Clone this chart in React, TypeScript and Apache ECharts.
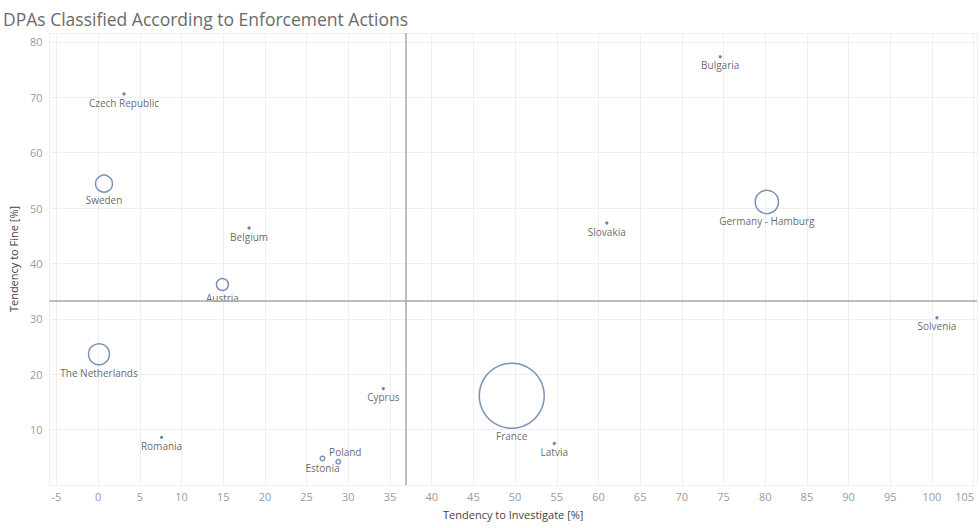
import React, { useEffect, useRef } from "react";
import * as echarts from "echarts";

const countries = [
  "Bulgaria", "Czech Republic", "Sweden", "Belgium", "Austria", "The Netherlands",
  "Cyprus", "Romania", "Estonia", "Poland", "France", "Latvia", "Slovakia",
  "Germany - Hamburg", "Solvenia",
];
const investigate = [74.6, 3.1, 0.7, 18.1, 14.9, 0.1, 34.2, 7.6, 26.9, 28.8, 49.6, 54.7, 61.0, 80.2, 100.6];
const fine = [77.3, 70.6, 54.4, 46.4, 36.2, 23.6, 17.4, 8.6, 4.8, 4.2, 16.1, 7.5, 47.3, 51.1, 30.2];
const weight = [0.02, 0.02, 1.7, 0.02, 0.85, 2.6, 0.02, 0.02, 0.12, 0.12, 25, 0.02, 0.02, 3.2, 0.02];
const labelAbove = ["Poland"];
const avgInvestigate = 36.9;
const avgFine = 33.3;

const FONT = "'Open Sans', 'Noto Sans', sans-serif";
const MARK = "#5a76a8";

export default function App() {
  const ref = useRef<HTMLDivElement>(null);
  useEffect(() => {
    if (!ref.current) return;
    const chart = echarts.init(ref.current, null, { renderer: "svg" });
    const data = countries.map((name, i) => ({
      name,
      value: [investigate[i], fine[i], weight[i]],
      itemStyle: weight[i] < 0.1 ? { color: MARK } : undefined,
      label: {
        position: labelAbove.includes(name) ? "top" : "bottom",
        offset: labelAbove.includes(name) ? [7, 0] : [0, 0],
      },
    }));
    chart.setOption({
      animation: false,
      backgroundColor: "#ffffff",
      title: {
        text: "DPAs Classified According to Enforcement Actions",
        left: -2,
        top: 5,
        textStyle: { fontFamily: FONT, fontSize: 17.5, fontWeight: "normal", color: "#6a6a6a" },
      },
      grid: { left: 47, right: 0, top: 33, bottom: 43 },
      xAxis: {
        type: "value",
        min: -5.84,
        max: 105.4,
        splitNumber: 22,
        name: "Tendency to Investigate [%]",
        nameLocation: "middle",
        nameGap: 24,
        nameTextStyle: { fontFamily: FONT, fontSize: 11, color: "#444444" },
        axisLine: { show: false },
        axisTick: { show: false },
        splitLine: { show: true, lineStyle: { color: "#efeff3", width: 1 } },
        axisLabel: {
          margin: 6,
          fontFamily: FONT,
          fontSize: 11,
          color: "#9a9a9a",
          formatter: (v: number) => {
            const r = Math.round(v);
            if (Math.abs(v - r) > 1e-6 || r % 5 !== 0) return "";
            return r === 105 ? "{r|105}" : String(r);
          },
          rich: { r: { fontFamily: FONT, fontSize: 11, color: "#9a9a9a", padding: [0, 18, 0, 0] } },
        },
      },
      yAxis: {
        type: "value",
        min: 0,
        max: 81.6,
        splitNumber: 8,
        name: "Tendency to Fine [%]",
        nameLocation: "middle",
        nameGap: 30,
        nameTextStyle: { fontFamily: FONT, fontSize: 11, color: "#444444" },
        axisLine: { show: false },
        axisTick: { show: false },
        splitLine: { show: true, lineStyle: { color: "#efeff3", width: 1 } },
        axisLabel: {
          margin: 7,
          fontFamily: FONT,
          fontSize: 11,
          color: "#9a9a9a",
          formatter: (v: number) => {
            const r = Math.round(v);
            if (Math.abs(v - r) > 1e-6 || r % 10 !== 0 || r === 0) return "";
            return String(r);
          },
        },
      },
      series: [
        {
          type: "scatter",
          data,
          symbol: "circle",
          symbolSize: (val: number[]) => 13 * Math.sqrt(val[2]),
          itemStyle: { color: "rgba(255,255,255,0)", borderColor: MARK, borderWidth: 1.5 },
          label: {
            show: true,
            formatter: "{b}",
            distance: 2,
            fontFamily: FONT,
            fontSize: 10,
            color: "#404040",
          },
          markLine: {
            silent: true,
            symbol: "none",
            label: { show: false },
            lineStyle: { color: "#a8a8a8", width: 1.5, type: "solid" },
            data: [{ xAxis: avgInvestigate }, { yAxis: avgFine }],
          },
          z: 3,
        },
      ],
    });
    return () => chart.dispose();
  }, []);
  return (
    <div
      ref={ref}
      style={{ position: "fixed", left: 0, top: 0, width: 980, height: 528 }}
    />
  );
}
